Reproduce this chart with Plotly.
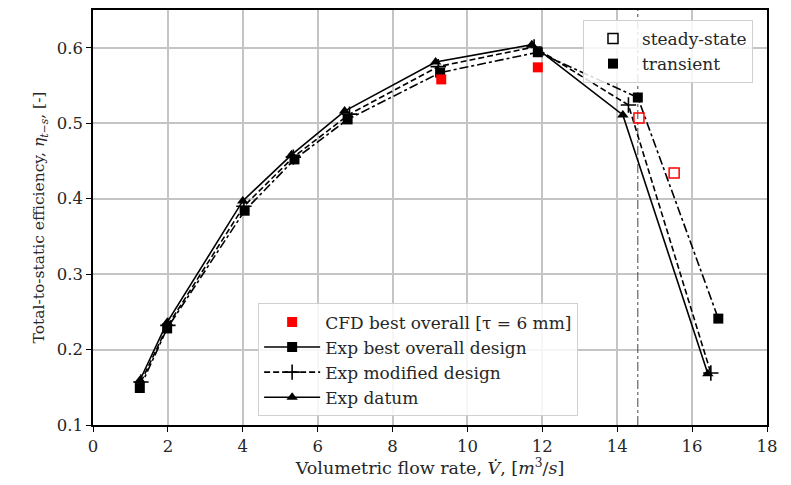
import plotly.graph_objects as go

# Volumetric flow rate [m^3/s] and total-to-static efficiency [-]
cfd_transient_x = [9.3, 11.88]
cfd_transient_y = [0.558, 0.574]
cfd_steady_x = [14.58, 15.52]
cfd_steady_y = [0.507, 0.434]

best_x = [1.25, 1.98, 4.05, 5.38, 6.8, 9.27, 11.88, 14.55, 16.7]
best_y = [0.149, 0.228, 0.384, 0.452, 0.505, 0.567, 0.594, 0.534, 0.241]

modified_x = [1.28, 2.0, 4.03, 5.35, 6.85, 9.22, 11.78, 14.3, 16.5]
modified_y = [0.157, 0.232, 0.39, 0.455, 0.512, 0.575, 0.601, 0.524, 0.169]

datum_x = [1.25, 1.98, 4.0, 5.3, 6.72, 9.15, 11.72, 14.15, 16.42]
datum_y = [0.159, 0.236, 0.397, 0.458, 0.516, 0.581, 0.604, 0.511, 0.168]

vline_x = 14.55

x_ticks = [0, 2, 4, 6, 8, 10, 12, 14, 16, 18]
y_ticks = [0.1, 0.2, 0.3, 0.4, 0.5, 0.6]

FONT = "DejaVu Serif"
TEXT = "#262626"
RED = "#ff0000"

fig = go.Figure()

# operating-point marker line
fig.add_trace(go.Scatter(
    x=[vline_x, vline_x], y=[0.1, 0.65], mode="lines",
    line=dict(color="#444444", width=1, dash="dashdot"),
    showlegend=False, hoverinfo="skip"))

fig.add_trace(go.Scatter(
    x=datum_x, y=datum_y, mode="lines+markers",
    line=dict(color="black", width=1.6),
    marker=dict(symbol="triangle-up", size=10, color="black"),
    showlegend=False))

fig.add_trace(go.Scatter(
    x=modified_x, y=modified_y, mode="lines+markers",
    line=dict(color="black", width=1.6, dash="6px,3px"),
    marker=dict(symbol="cross-thin", size=11, color="black",
                line=dict(color="black", width=1.6)),
    showlegend=False))

fig.add_trace(go.Scatter(
    x=best_x, y=best_y, mode="lines+markers",
    line=dict(color="black", width=1.6, dash="dashdot"),
    marker=dict(symbol="square", size=10, color="black"),
    showlegend=False))

fig.add_trace(go.Scatter(
    x=cfd_transient_x, y=cfd_transient_y, mode="markers",
    marker=dict(symbol="square", size=10, color=RED),
    name="CFD best overall [τ = 6 mm]", legend="legend"))

fig.add_trace(go.Scatter(
    x=cfd_steady_x, y=cfd_steady_y, mode="markers",
    marker=dict(symbol="square-open", size=10, color=RED,
                line=dict(width=1.5)),
    showlegend=False))

# legend entries for the experimental series
fig.add_trace(go.Scatter(
    x=[None], y=[None], mode="lines+markers",
    line=dict(color="black", width=1.6),
    marker=dict(symbol="square", size=10, color="black"),
    name="Exp best overall design", legend="legend"))
fig.add_trace(go.Scatter(
    x=[None], y=[None], mode="lines+markers",
    line=dict(color="black", width=1.6, dash="6px,3px"),
    marker=dict(symbol="cross-thin", size=11, color="black",
                line=dict(color="black", width=1.6)),
    name="Exp modified design", legend="legend"))
fig.add_trace(go.Scatter(
    x=[None], y=[None], mode="lines+markers",
    line=dict(color="black", width=1.6),
    marker=dict(symbol="triangle-up", size=10, color="black"),
    name="Exp datum", legend="legend"))

# simulation-type legend
fig.add_trace(go.Scatter(
    x=[None], y=[None], mode="markers",
    marker=dict(symbol="square-open", size=10, color="black",
                line=dict(width=1.5)),
    name="steady-state", legend="legend2"))
fig.add_trace(go.Scatter(
    x=[None], y=[None], mode="markers",
    marker=dict(symbol="square", size=10, color="black"),
    name="transient", legend="legend2"))

legend_style = dict(
    font=dict(family=FONT, size=17, color=TEXT),
    bgcolor="rgba(255,255,255,0.85)",
    bordercolor="#d0d0d0", borderwidth=1,
    xanchor="left", yanchor="top",
    tracegroupgap=0,
)

axis_common = dict(
    showgrid=True, gridcolor="#c4c4c4", gridwidth=1.5,
    zeroline=False, showline=True, linecolor="black", linewidth=1.5,
    mirror=True, ticks="outside", ticklen=5, tickcolor="black",
    tickfont=dict(family=FONT, size=16.5, color=TEXT),
)

fig.update_layout(
    width=791, height=485,
    margin=dict(l=93, r=24, t=8, b=60),
    paper_bgcolor="white", plot_bgcolor="white",
    font=dict(family=FONT, size=16, color=TEXT),
    legend=dict(x=0.245, y=0.293, itemwidth=56, **legend_style),
    legend2=dict(x=0.727, y=0.976, itemwidth=48, **legend_style),
    xaxis=dict(
        range=[0, 18], tickvals=x_ticks,
        title=dict(text="Volumetric flow rate, <i>V̇</i>, [<i>m</i><sup>3</sup>/<i>s</i>]",
                   font=dict(family=FONT, size=17.5, color=TEXT), standoff=6),
        **axis_common,
    ),
    yaxis=dict(
        range=[0.1, 0.65], tickvals=y_ticks, tickformat=".1f",
        title=dict(text="Total-to-static efficiency, <i>η</i><sub><i>t−s</i></sub>, [-]",
                   font=dict(family=FONT, size=15.5, color=TEXT), standoff=8),
        **axis_common,
    ),
)

fig.write_html("out.html")
